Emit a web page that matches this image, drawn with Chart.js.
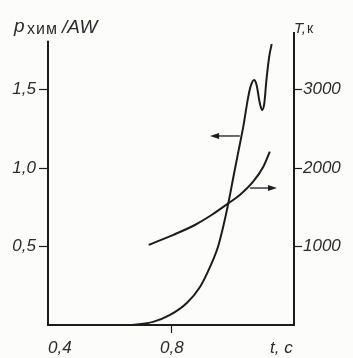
<!DOCTYPE html>
<html>
<head>
<meta charset="utf-8">
<script src="https://cdn.jsdelivr.net/npm/chart.js@4"></script>
<style>
  body { margin: 0; background: #fcfcfb; }
</style>
</head>
<body>
<canvas id="myChart" width="353" height="358"></canvas>
<script>
// chemical power curve (left axis)
const pressTime = [0.670, 0.739, 0.794, 0.848, 0.890, 0.923, 0.949, 0.966, 0.982, 1.001, 1.019, 1.030, 1.046, 1.054, 1.065, 1.073, 1.084, 1.091, 1.098, 1.105, 1.114, 1.122];
const pressure  = [0, 0.02, 0.064, 0.14, 0.24, 0.37, 0.50, 0.63, 0.775, 0.97, 1.15, 1.26, 1.45, 1.52, 1.56, 1.53, 1.41, 1.37, 1.41, 1.56, 1.71, 1.79];
// temperature curve (right axis)
const tempTime = [0.725, 0.803, 0.874, 0.928, 0.982, 1.019, 1.062, 1.095, 1.116];
const temperature = [1020, 1146, 1274, 1401, 1550, 1656, 1826, 2017, 2208];

const xTicks = [0.4, 0.8];
const pTicks = [0.5, 1.0, 1.5];
const tTicks = [1000, 2000, 3000];

// arrows: [t from, t to, level]
const arrowP = [1.019, 0.923, 1.204];
const arrowT = [1.052, 1.139, 1745];

const INK = '#1c1c1c';
const TXT = '#2b2b2b';
const tickFont = { family: 'Liberation Sans', style: 'italic', size: 17 };
const comma = v => v.toFixed(1).replace('.', ',');

function drawArrow(ctx, x1, x2, y) {
    const dir = x2 > x1 ? 1 : -1;
    ctx.beginPath();
    ctx.moveTo(x1, y);
    ctx.lineTo(x2 - dir * 6, y);
    ctx.stroke();
    ctx.beginPath();
    ctx.moveTo(x2, y);
    ctx.lineTo(x2 - dir * 9, y - 3);
    ctx.lineTo(x2 - dir * 9, y + 3);
    ctx.closePath();
    ctx.fill();
}

const extras = {
    id: 'extras',
    afterDraw(chart) {
        const { ctx, scales } = chart;
        const x = scales.x, y = scales.y, y2 = scales.y2;
        ctx.save();
        ctx.strokeStyle = INK;
        ctx.fillStyle = INK;
        // left axis, a bit shorter than the right one
        ctx.lineWidth = 2;
        ctx.beginPath();
        ctx.moveTo(x.left, y.getPixelForValue(0) + 1);
        ctx.lineTo(x.left, y.getPixelForValue(1.81));
        ctx.stroke();
        // arrows
        ctx.lineWidth = 1.3;
        drawArrow(ctx, x.getPixelForValue(arrowP[0]), x.getPixelForValue(arrowP[1]), y.getPixelForValue(arrowP[2]));
        drawArrow(ctx, x.getPixelForValue(arrowT[0]), x.getPixelForValue(arrowT[1]), y2.getPixelForValue(arrowT[2]));
        // axis titles
        ctx.fillStyle = TXT;
        ctx.textBaseline = 'alphabetic';
        ctx.font = 'italic 19px "Liberation Sans"';
        ctx.fillText('p', 14, 32);
        ctx.font = '16px "Liberation Sans"';
        ctx.letterSpacing = '1px';
        ctx.fillText('хим', 27, 34);
        ctx.letterSpacing = '0px';
        ctx.font = 'italic 19px "Liberation Sans"';
        ctx.fillText('/AW', 62, 33);
        ctx.font = 'italic 15px "Liberation Sans"';
        ctx.fillText('T,', 294, 33);
        ctx.font = '14px "Liberation Sans"';
        ctx.fillText('к', 307, 33);
        ctx.font = 'italic 17px "Liberation Sans"';
        ctx.fillText('t, c', 270, 353);
        ctx.restore();
    }
};

new Chart(document.getElementById('myChart'), {
    type: 'line',
    data: {
        datasets: [{
            label: 'p',
            data: pressTime.map((t, i) => ({ x: t, y: pressure[i] })),
            yAxisID: 'y',
            borderColor: INK,
            borderWidth: 2,
            pointRadius: 0,
            cubicInterpolationMode: 'monotone'
        }, {
            label: 'T',
            data: tempTime.map((t, i) => ({ x: t, y: temperature[i] })),
            yAxisID: 'y2',
            borderColor: INK,
            borderWidth: 2,
            pointRadius: 0,
            cubicInterpolationMode: 'monotone'
        }]
    },
    options: {
        responsive: false,
        animation: false,
        devicePixelRatio: 1,
        layout: { padding: { top: 33 } },
        plugins: { legend: { display: false }, tooltip: { enabled: false } },
        scales: {
            x: {
                type: 'linear',
                min: 0.4,
                max: 1.194,
                // extra blank tick at the end so 'inner' only pushes the first label inward
                afterBuildTicks: s => { s.ticks = xTicks.map(v => ({ value: v })).concat([{ value: s.max }]); },
                afterFit: s => { s.height = 33; },
                border: { display: true, color: INK, width: 2 },
                grid: {
                    drawOnChartArea: false,
                    tickLength: 8,
                    tickWidth: 1.2,
                    tickColor: c => (c.index === 0 || c.index === xTicks.length) ? 'rgba(0,0,0,0)' : INK
                },
                ticks: {
                    font: tickFont, color: TXT, padding: 5, maxRotation: 0, align: 'inner',
                    callback: v => xTicks.includes(v) ? comma(v) : ''
                }
            },
            y: {
                position: 'left',
                min: 0,
                max: 1.86,
                afterBuildTicks: s => { s.ticks = pTicks.map(v => ({ value: v })); },
                afterFit: s => { s.width = 48; },
                border: { display: false },
                grid: { drawOnChartArea: false, tickLength: 9, tickWidth: 1.2, tickColor: INK },
                ticks: { font: tickFont, color: TXT, padding: 3, callback: v => comma(v) }
            },
            y2: {
                position: 'right',
                min: 0,
                max: 3720,
                afterBuildTicks: s => { s.ticks = tTicks.map(v => ({ value: v })); },
                afterFit: s => { s.width = 59; },
                border: { display: true, color: INK, width: 2 },
                grid: { drawOnChartArea: false, tickLength: 8, tickWidth: 1.2, tickColor: INK },
                ticks: { font: tickFont, color: TXT, padding: 1, callback: v => String(v) }
            }
        }
    },
    plugins: [extras]
});
</script>
</body>
</html>
